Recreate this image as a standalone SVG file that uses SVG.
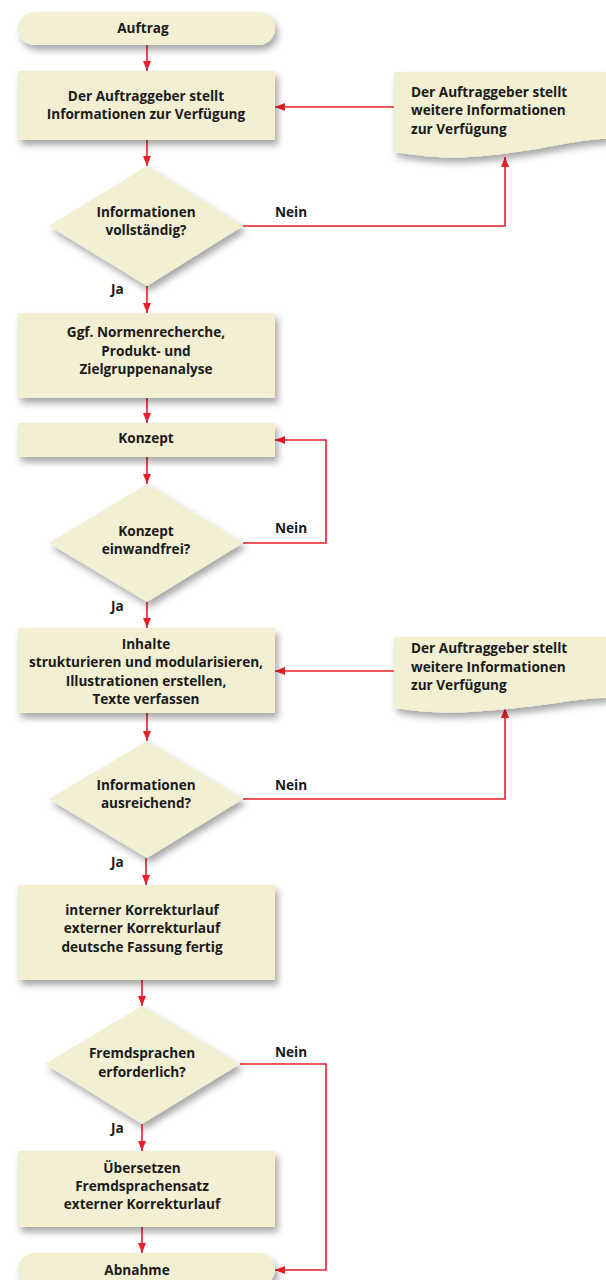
<svg xmlns="http://www.w3.org/2000/svg" width="606" height="1280" viewBox="0 0 606 1280">
<defs>
<style>
.n{fill:#f2efd3;filter:url(#sh)}
.t{font-family:"Open Sans","Liberation Sans",sans-serif;font-weight:bold;font-size:13.6px;fill:#1a1a1a;text-anchor:middle}
.l{font-family:"Open Sans","Liberation Sans",sans-serif;font-weight:bold;font-size:13.6px;fill:#1a1a1a}
.c{fill:none;stroke:#e8202a;stroke-width:1.6;marker-end:url(#ah)}
</style>
<filter id="sh" x="-20%" y="-20%" width="140%" height="160%">
<feDropShadow dx="3" dy="5" stdDeviation="3.5" flood-color="#000" flood-opacity="0.35"/>
</filter>
<marker id="ah" viewBox="0 0 10 8" refX="10" refY="4" markerWidth="10" markerHeight="8" markerUnits="userSpaceOnUse" orient="auto">
<path d="M0,0 L10,4 L0,8 Z" fill="#e8202a"/>
</marker>
</defs>
<rect width="606" height="1280" fill="#fff"/>

<g id="connectors">
<path class="c" d="M147,45 V71"/>
<path class="c" d="M147,140 V166"/>
<path class="c" d="M243,226 H505 V157"/>
<path class="c" d="M394,107 H275"/>
<path class="c" d="M147,286 V313"/>
<path class="c" d="M147,398 V423"/>
<path class="c" d="M147,457 V484"/>
<path class="c" d="M243,543 H326 V440 H275"/>
<path class="c" d="M147,602 V628"/>
<path class="c" d="M394,671 H275"/>
<path class="c" d="M147,713 V741"/>
<path class="c" d="M243,799 H505 V708"/>
<path class="c" d="M146,858 V885"/>
<path class="c" d="M142,980 V1006"/>
<path class="c" d="M142,1124 V1151"/>
<path class="c" d="M142,1227 V1253"/>
<path class="c" d="M240,1064 H326 V1270 H275"/>
</g>

<g id="auftrag">
<rect class="n" x="18" y="12" width="257" height="33" rx="16.5"/>
<text class="t" x="143" y="33">Auftrag</text>
</g>

<g id="box1">
<rect class="n" x="18" y="71" width="257" height="69"/>
<text class="t" x="146" y="101">Der Auftraggeber stellt</text>
<text class="t" x="146" y="119">Informationen zur Verfügung</text>
</g>

<g id="doc1">
<path class="n" d="M394,72 H606 V139 C575,139 540,152 470,157 C440,159 415,155 394,152 Z"/>
<text class="l" x="411" y="97">Der Auftraggeber stellt</text>
<text class="l" x="411" y="115">weitere Informationen</text>
<text class="l" x="411" y="134">zur Verfügung</text>
</g>

<g id="dec1">
<polygon class="n" points="147,166 243,226 147,286 49,226"/>
<text class="t" x="146" y="217">Informationen</text>
<text class="t" x="146" y="235">vollständig?</text>
</g>
<text class="l" x="275" y="217">Nein</text>
<text class="l" x="111" y="294">Ja</text>

<g id="box3">
<rect class="n" x="18" y="313" width="257" height="85"/>
<text class="t" x="146" y="337">Ggf. Normenrecherche,</text>
<text class="t" x="146" y="356">Produkt- und</text>
<text class="t" x="146" y="374">Zielgruppenanalyse</text>
</g>

<g id="konzept">
<rect class="n" x="18" y="423" width="257" height="34"/>
<text class="t" x="146" y="443">Konzept</text>
</g>

<g id="dec2">
<polygon class="n" points="147,484 243,543 147,602 49,543"/>
<text class="t" x="146" y="536">Konzept</text>
<text class="t" x="146" y="554">einwandfrei?</text>
</g>
<text class="l" x="275" y="533">Nein</text>
<text class="l" x="111" y="611">Ja</text>

<g id="inhalte">
<rect class="n" x="18" y="628" width="257" height="85"/>
<text class="t" x="146" y="649">Inhalte</text>
<text class="t" x="146" y="667">strukturieren und modularisieren,</text>
<text class="t" x="146" y="686">Illustrationen erstellen,</text>
<text class="t" x="146" y="704">Texte verfassen</text>
</g>

<g id="doc2">
<path class="n" d="M394,637 H606 V698 C575,698 540,708 470,712 C440,714 415,711 394,708 Z"/>
<text class="l" x="411" y="653">Der Auftraggeber stellt</text>
<text class="l" x="411" y="672">weitere Informationen</text>
<text class="l" x="411" y="690">zur Verfügung</text>
</g>

<g id="dec3">
<polygon class="n" points="147,741 243,799 147,858 49,799"/>
<text class="t" x="146" y="790">Informationen</text>
<text class="t" x="146" y="808">ausreichend?</text>
</g>
<text class="l" x="275" y="790">Nein</text>
<text class="l" x="111" y="867">Ja</text>

<g id="box5">
<rect class="n" x="18" y="885" width="257" height="95"/>
<text class="t" x="142" y="915">interner Korrekturlauf</text>
<text class="t" x="142" y="933">externer Korrekturlauf</text>
<text class="t" x="142" y="952">deutsche Fassung fertig</text>
</g>

<g id="dec4">
<polygon class="n" points="142,1006 240,1064 142,1124 45,1064"/>
<text class="t" x="142" y="1058">Fremdsprachen</text>
<text class="t" x="142" y="1077">erforderlich?</text>
</g>
<text class="l" x="275" y="1057">Nein</text>
<text class="l" x="111" y="1133">Ja</text>

<g id="box6">
<rect class="n" x="18" y="1151" width="257" height="76"/>
<text class="t" x="142" y="1173">Übersetzen</text>
<text class="t" x="142" y="1191">Fremdsprachensatz</text>
<text class="t" x="142" y="1209">externer Korrekturlauf</text>
</g>

<g id="abnahme">
<rect class="n" x="18" y="1253" width="257" height="33" rx="16.5"/>
<text class="t" x="137" y="1275">Abnahme</text>
</g>
</svg>
